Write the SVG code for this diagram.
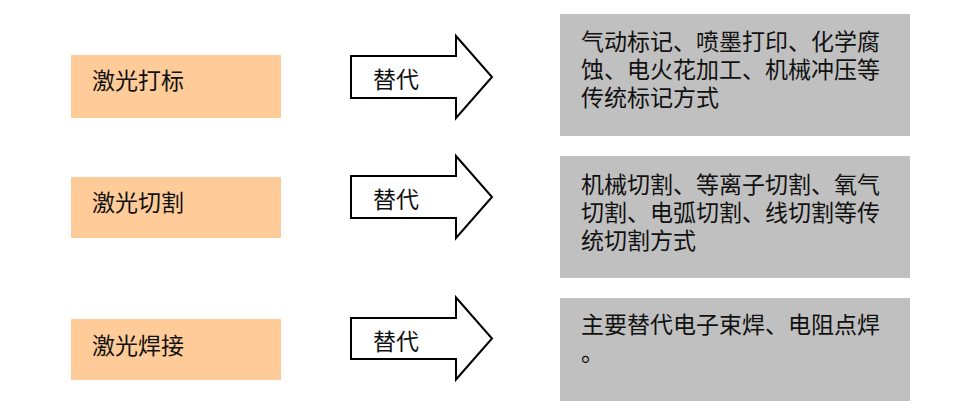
<svg xmlns="http://www.w3.org/2000/svg" width="963" height="414" viewBox="0 0 963 414">
<style>
text{font-family:"Liberation Sans","Noto Sans CJK SC","Noto Sans CJK TC",sans-serif;font-size:23px;fill:#111}
.src{fill:#FFCC99}
.dst{fill:#C0C0C0}
.arr{fill:#fff;stroke:#000;stroke-width:2;stroke-linejoin:miter}
</style>
<rect width="963" height="414" fill="#fff"/>
<g id="node-marking"><rect class="src" x="71" y="55" width="210" height="63"/><text x="92" y="89">激光打标</text></g>
<g id="node-cutting"><rect class="src" x="71" y="177" width="210" height="61"/><text x="92" y="211">激光切割</text></g>
<g id="node-welding"><rect class="src" x="71" y="319" width="210" height="61"/><text x="92" y="354">激光焊接</text></g>
<g id="node-marking-old"><rect class="dst" x="560" y="14" width="350" height="122"/>
<text x="581" y="50">气动标记、喷墨打印、化学腐<tspan x="581" dy="28">蚀、电火花加工、机械冲压等</tspan><tspan x="581" dy="28">传统标记方式</tspan></text></g>
<g id="node-cutting-old"><rect class="dst" x="560" y="156" width="350" height="122"/>
<text x="581" y="193">机械切割、等离子切割、氧气<tspan x="581" dy="28">切割、电弧切割、线切割等传</tspan><tspan x="581" dy="28">统切割方式</tspan></text></g>
<g id="node-welding-old"><rect class="dst" x="560" y="298" width="350" height="103"/>
<text x="581" y="333">主要替代电子束焊、电阻点焊<tspan x="581" dy="28">。</tspan></text></g>
<g id="connectors">
<path class="arr" d="M351,56 H456 V36 L492,77 L456,118 V98 H351 Z"/>
<text x="373" y="88">替代</text>
<path class="arr" d="M351,176 H456 V156 L492,197 L456,238 V218 H351 Z"/>
<text x="373" y="208">替代</text>
<path class="arr" d="M351,318 H456 V297.5 L492,338.5 L456,379.5 V359 H351 Z"/>
<text x="373" y="350">替代</text>
</g>
</svg>
